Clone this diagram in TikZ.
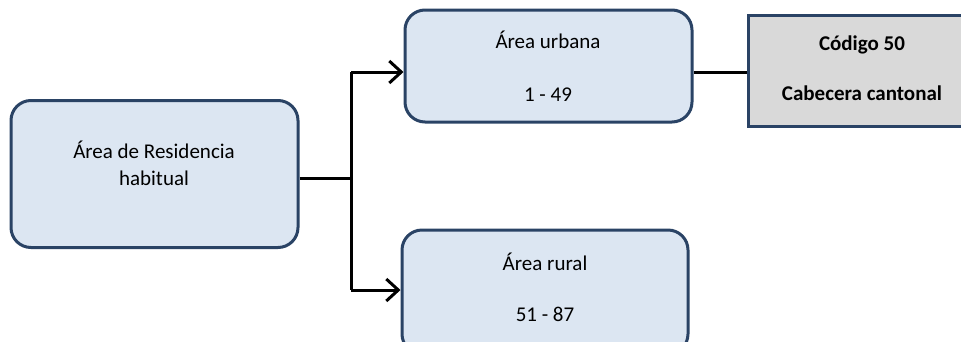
\documentclass[tikz,border=0pt]{standalone}
\usepackage{fontspec}
\setmainfont{Carlito}
\usetikzlibrary{arrows.meta,calc}
\definecolor{boxfill}{HTML}{DCE6F2}
\definecolor{boxline}{HTML}{2A4365}
\definecolor{grayfill}{HTML}{D9D9D9}
\tikzset{
  box/.style={draw=boxline, fill=boxfill, line width=3pt, rounded corners=20pt, inner sep=0pt},
  graybox/.style={draw=boxline, fill=grayfill, line width=3pt, inner sep=0pt},
  txt/.style={align=center, inner sep=0pt, font=\fontsize{21}{26}\selectfont},
  conn/.style={line width=3pt, black},
  arr/.style={conn, -{Straight Barb[length=12pt,width=22pt,line width=3pt]}},
}
\begin{document}
\begin{tikzpicture}[x=1pt,y=-1pt]
\useasboundingbox (0,0) rectangle (961,341);
% boxes
\node[box, minimum width=287pt, minimum height=147pt] (res) at (154.5,174) {};
\node[txt] (restxt) at (154,163) {Área de Residencia\\[1pt]habitual};
\node[box, minimum width=287pt, minimum height=112pt] (urb) at (548.5,66) {};
\node[txt] (urbtxt) at (548,66) {Área urbana\\[27pt]1 - 49};
\node[box, minimum width=286pt, minimum height=124pt] (rur) at (545,292) {};
\node[txt] (rurtxt) at (545,287.5) {Área rural\\[25pt]51 - 87};
\node[graybox, minimum width=228pt, minimum height=111pt] (cod) at (862,70.5) {};
\node[txt, font=\fontsize{21}{26}\selectfont\bfseries] (codtxt) at (862,68) {Código 50\\[24pt]Cabecera cantonal};
% connectors
\coordinate (j) at (351,178);
\coordinate (jt) at (351,72);
\coordinate (jb) at (351,290);
\draw[conn] (res.east |- j) -- (j);
\draw[conn] (jt) -- (jb);
\draw[arr] (jt) -- (jt -| urb.west);
\draw[arr] (jb) -- (jb -| rur.west);
\draw[conn] (urb.east |- jt) -- (jt -| cod.west);
\end{tikzpicture}
\end{document}
